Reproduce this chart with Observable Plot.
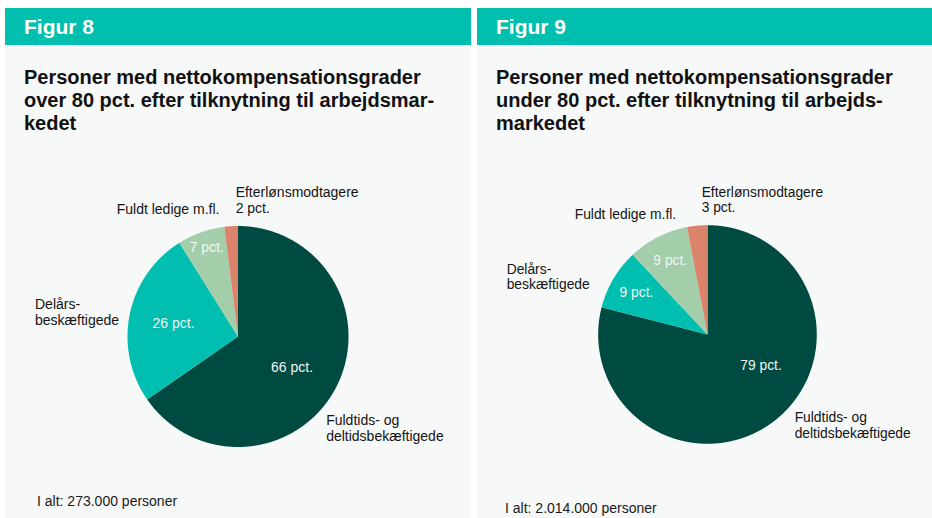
<!DOCTYPE html>
<html>
<head>
<meta charset="utf-8">
<script src="https://cdn.jsdelivr.net/npm/d3@7"></script>
<script src="https://cdn.jsdelivr.net/npm/@observablehq/plot@0.6"></script>
<style>
  html, body { margin: 0; padding: 0; background: #ffffff; }
  body { width: 932px; height: 518px; overflow: hidden; position: relative;
         font-family: "Liberation Sans", Arial, Helvetica, sans-serif; color: #141414; }
  .panel { position: absolute; top: 8px; height: 510px; background: #f7f8f8; }
  .head { height: 37px; background: #00bfae; color: #ffffff; font-weight: bold;
          font-size: 21px; line-height: 38px; padding-left: 19px; }
  .title { position: absolute; left: 19px; top: 58px; font-weight: bold; font-size: 20px;
           line-height: 23px; color: #111111; white-space: nowrap; }
  .chart { position: absolute; left: 0; top: 142px; }
  .note { position: absolute; font-size: 14px; line-height: 16px; color: #1a1a1a; white-space: nowrap; }
</style>
</head>
<body>
<div id="root"></div>
<script>
// ---- data ----
const categories = ["Fuldtids- og deltidsbekæftigede", "Delårsbeskæftigede", "Fuldt ledige m.fl.", "Efterlønsmodtagere"];
const categoryLabels = ["Fuldtids- og\ndeltidsbekæftigede", "Delårs-\nbeskæftigede", "Fuldt ledige m.fl.", "Efterlønsmodtagere"];
const sliceColors = ["#004b41", "#00bfb0", "#a3cea9", "#db836b"];
const fig8Values = [66, 26, 7, 2];
const fig9Values = [79, 9, 9, 3];
const figureNumbers = ["Figur 8", "Figur 9"];
const fig8TitleLines = ["Personer med nettokompensationsgrader", "over 80 pct. efter tilknytning til arbejdsmar-", "kedet"];
const fig9TitleLines = ["Personer med nettokompensationsgrader", "under 80 pct. efter tilknytning til arbejds-", "markedet"];
const fig8Total = "I alt: 273.000 personer";
const fig9Total = "I alt: 2.014.000 personer";
const unit = "pct.";

// ---- helpers ----
const FONT = "Liberation Sans, Arial, sans-serif";

function pieChart(values) {
  const W = 460, H = 330, cx = 233, cy = 186.5, R = 110.5;
  const arcs = d3.pie().sort(null).value(d => d)(values);
  const rows = [];
  arcs.forEach((a, i) => {
    const n = Math.max(2, Math.ceil((a.endAngle - a.startAngle) / 0.005) + 1);
    for (let k = 0; k < n; ++k) {
      const t = a.startAngle + (a.endAngle - a.startAngle) * k / (n - 1);
      rows.push({cat: categories[i], x1: Math.sin(t), y1: Math.cos(t), x2: 0, y2: 0});
    }
  });
  const pt = (ang, r) => ({x: Math.sin(ang) * r, y: Math.cos(ang) * r});
  const mid = a => (a.startAngle + a.endAngle) / 2;
  const deg = Math.PI / 180;

  // inner labels
  const inner = [];
  arcs.forEach((a, i) => {
    const v = values[i];
    if (v < 5) return;
    let ang = mid(a), r;
    if (v >= 50) { ang = 120 * deg; r = 0.56; }
    else r = v >= 20 ? 0.6 : v >= 8 ? 0.76 : 0.86;
    inner.push({...pt(ang, r), text: `${v} ${unit}`});
  });

  // outer labels
  const main = {...pt(130 * deg, 1), text: categoryLabels[0]};
  const delPt = {x: -1, y: pt(mid(arcs[1]), 1).y};
  const delText = categoryLabels[1];
  const ledPt = pt(mid(arcs[2]), 1);
  const eftPt = pt(mid(arcs[3]), 1);
  const eftText = `${categoryLabels[3]}\n${values[3]} ${unit}`;

  const common = {fontSize: 14, lineHeight: 1.15, fill: "#141414", lineAnchor: "middle"};
  return Plot.plot({
    width: W, height: H, margin: 0,
    x: {domain: [-cx / R, (W - cx) / R], axis: null},
    y: {domain: [-(H - cy) / R, cy / R], axis: null},
    color: {domain: categories, range: sliceColors},
    style: {fontFamily: FONT, background: "transparent", overflow: "visible"},
    marks: [
      Plot.area(rows, {x1: "x1", y1: "y1", x2: "x2", y2: "y2", fill: "cat", z: "cat"}),
      Plot.text(inner, {x: "x", y: "y", text: "text", fontSize: 14, fill: "#f2f5f4", lineAnchor: "middle"}),
      Plot.text([main], {x: "x", y: "y", text: "text", ...common, textAnchor: "start", dx: 3, dy: 20}),
      Plot.text([{...delPt, text: delText}], {x: "x", y: "y", text: "text", ...common, textAnchor: "start", dx: -93, dy: -3}),
      Plot.text([{...ledPt, text: categoryLabels[2]}], {x: "x", y: "y", text: "text", ...common, textAnchor: "end", dx: 18, dy: -24}),
      Plot.text([{...eftPt, text: eftText}], {x: "x", y: "y", text: "text", ...common, textAnchor: "start", dx: 4, dy: -27})
    ]
  });
}

function panel(left, width, figNo, titleLines, values, total, noteLeft, noteTop) {
  const p = document.createElement("div");
  p.className = "panel";
  p.style.left = left + "px";
  p.style.width = width + "px";
  const h = document.createElement("div");
  h.className = "head";
  h.textContent = figNo;
  p.appendChild(h);
  const t = document.createElement("div");
  t.className = "title";
  titleLines.forEach((l, i) => {
    if (i) t.appendChild(document.createElement("br"));
    t.appendChild(document.createTextNode(l));
  });
  p.appendChild(t);
  const c = document.createElement("div");
  c.className = "chart";
  c.appendChild(pieChart(values));
  p.appendChild(c);
  const n = document.createElement("div");
  n.className = "note";
  n.style.left = noteLeft + "px";
  n.style.top = noteTop + "px";
  n.textContent = total;
  p.appendChild(n);
  document.getElementById("root").appendChild(p);
}

panel(5, 466, figureNumbers[0], fig8TitleLines, fig8Values, fig8Total, 32, 485);
panel(477, 455, figureNumbers[1], fig9TitleLines, fig9Values, fig9Total, 28, 492);
</script>
</body>
</html>
